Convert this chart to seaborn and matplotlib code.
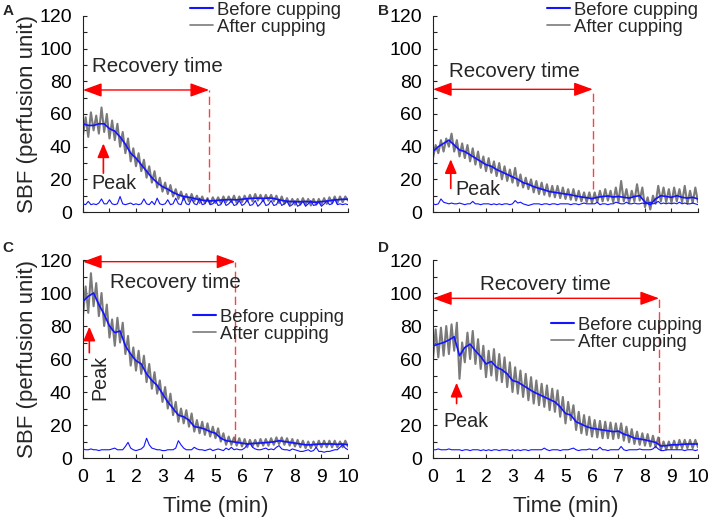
import numpy as np
import matplotlib.pyplot as plt
import seaborn as sns

sns.set_style("ticks")
plt.rcParams['font.family'] = ['Liberation Sans', 'DejaVu Sans']

# sample times (min): raw traces every 0.1 min, smoothed trace every 0.2 min
t_raw = np.round(np.arange(0, 10.01, 0.1), 1)
t_avg = np.round(np.arange(0, 10.01, 0.2), 1)

# ---- Panel A ----
a_before = [5, 4.5, 6.5, 4.5, 5, 4.5, 5.5, 8, 5, 5,
            7.5, 5, 4.5, 5, 9.5, 5, 4.5, 5, 5.5, 4.5,
            5, 4.5, 5, 8, 5, 4.5, 6.5, 4.5, 8.5, 5,
            4.5, 5, 7.5, 4.5, 5, 8.5, 5, 4.5, 9, 5,
            4.5, 8, 5, 4.5, 8.5, 4.5, 5, 8, 4.5, 5,
            7, 4, 4.5, 7.5, 4, 5, 7, 4, 4.5, 7,
            4, 5, 7.5, 4, 4.5, 7, 3.5, 5, 7.5, 4,
            4.5, 7, 4, 4.5, 7.5, 4, 5, 6.5, 3.5, 4.5,
            7, 3.5, 4.5, 6.5, 3.5, 5, 7, 4, 4.5, 6,
            3.5, 5, 7, 4.5, 5, 8, 4.5, 5, 4.5, 5, 4.5]
a_after = [47, 58, 46, 61, 50, 59, 48, 64, 49, 60,
           45, 56, 44, 54, 40, 49, 36, 45, 31, 39,
           28, 36, 25, 32, 21, 28, 18, 25, 15, 21,
           12.5, 18, 11, 16.5, 9.5, 14, 8, 12.5, 7.5, 11,
           6.5, 11, 6.5, 10, 5.5, 9.5, 5.5, 8.5, 5, 9,
           5.5, 9, 5.5, 9.5, 6, 9.5, 6, 10, 5.5, 9.5,
           6, 10, 6.5, 10.5, 6.5, 11, 7, 10.5, 6.5, 10.5,
           7, 10.5, 6.5, 10, 5.5, 9.5, 5, 8.5, 4.5, 8,
           4.5, 8, 4.5, 8.5, 4.5, 8, 4, 8, 4.5, 8,
           4.5, 8.5, 5, 9, 5.5, 9.5, 5.5, 9.5, 6, 9.5, 7]
a_after_avg = [54, 53, 53, 54, 54, 51, 49.5, 46, 41.5, 36, 33,
               29, 25, 21, 18, 15.5, 14, 12, 10.5, 9.5, 9,
               8.3, 7.5, 7, 6.8, 7, 7.3, 7.5, 7.6, 7.4, 7.8,
               8.2, 8.4, 8.5, 8.3, 8.6, 8.3, 7.5, 6.8, 6.5, 6.2,
               6.3, 6.5, 6.1, 6.0, 6.4, 6.6, 7.2, 7.5, 7.8, 7.8]

# ---- Panel B ----
b_before = [5, 4.5, 5, 8, 6, 5.5, 5, 5.5, 5, 5,
            5.5, 5, 4.5, 5, 5, 6.5, 5, 5, 4.5, 5,
            5, 5, 4.5, 5, 4.5, 5, 4.5, 5, 5, 4.5,
            5, 7, 5.5, 6, 5, 4.5, 4, 4.5, 5, 5,
            5, 4.5, 5, 5, 4.5, 5, 5, 4.5, 5, 5,
            5, 5, 4.5, 5, 5, 4.5, 5, 5.5, 5, 5,
            5, 5, 6, 4.5, 5, 5, 4.5, 5, 5, 6,
            5.5, 5, 5, 6, 5, 5, 5.5, 5, 5, 5.5,
            5, 5.5, 6, 5, 5.5, 6.5, 5, 5.5, 5, 5.5,
            5, 5.5, 5, 6, 5, 5.5, 5, 5, 5.5, 5, 4.5]
b_after = [33, 41, 36, 44, 37, 45, 40, 48, 37, 44,
           34, 42, 33, 41, 31, 39, 29, 37, 27, 34,
           25, 33, 24, 31, 22, 30, 20, 28, 19, 26,
           18, 27, 16, 23, 15, 21, 14, 20, 12, 19,
           11, 18, 10.5, 17, 9.5, 16, 9, 16, 8.5, 15,
           8, 14, 7.5, 14, 7, 13, 6.5, 12, 6, 12,
           5.5, 12, 6, 13, 6.5, 14, 7, 13, 6, 15,
           6, 19, 6.5, 14, 5.5, 13, 6.5, 17, 7, 15,
           3, 9, 1.5, 10, 5, 16, 6.5, 15, 6, 14,
           5.5, 15, 6.5, 14, 6, 16, 5, 13, 5.5, 15, 6]
b_after_avg = [37, 40, 42, 44, 41, 38, 37, 35, 33, 31, 29,
               28, 26, 24.5, 23, 21.5, 20, 18, 17, 15.5, 14.5,
               13.5, 12.5, 12, 11.5, 11, 10.5, 9.8, 9.2, 8.8, 8.2,
               9, 9.5, 9.8, 9.2, 9.5, 9, 8.5, 9.5, 10, 6,
               4.5, 8, 10, 9.5, 9, 10, 9, 8.5, 9, 8]

# ---- Panel C ----
c_before = [5.5, 5, 5, 5.5, 5, 5, 4.5, 5, 5, 5,
            5, 5.5, 6, 5, 5, 5, 7, 9.5, 6, 5,
            4.5, 5, 5.5, 7, 12, 8, 6, 5.5, 5, 5,
            4.5, 4.5, 5, 5, 5, 6, 10.5, 8, 6, 5,
            5, 5, 6.5, 5.5, 5, 5, 4.5, 5, 5.5, 4.5,
            5, 5.5, 5, 4.5, 6, 5, 6.5, 5, 5.5, 5,
            5, 6, 8, 9, 6.5, 5.5, 5, 5, 5.5, 6,
            5, 5.5, 5, 6.5, 7.5, 5.5, 5, 5, 4.5, 5.5,
            5, 4.5, 4, 4, 4.5, 5, 4, 4.5, 6.5, 4,
            4, 3.5, 4, 4, 4.5, 5, 5, 6.5, 8, 6, 5]
c_after = [86, 104, 88, 112, 92, 106, 86, 100, 80, 93,
           73, 84, 68, 85, 70, 82, 63, 74, 56, 67,
           53, 65, 51, 62, 46, 57, 42, 52, 39, 47,
           34, 43, 30, 39, 26, 34, 22, 30, 21, 29,
           19, 27, 16, 23, 15, 22, 14, 21, 13, 19,
           12, 18, 10, 15, 8, 13, 8, 12.5, 7.5, 12,
           7, 11.5, 6.5, 11, 7, 11, 7, 11.5, 7.5, 11.5,
           7.5, 12, 8, 12.5, 8.5, 12.5, 8, 12, 7.5, 11.5,
           7, 11, 6.5, 10.5, 6, 10, 6, 10, 6.5, 10.5,
           6.5, 10.5, 6.5, 10.5, 6.5, 10.5, 6.5, 10, 6.5, 10.5, 7]
c_after_avg = [95, 98, 100, 93, 87, 80, 76, 77, 68, 63, 59,
               57, 51, 47, 44, 39, 34, 30, 26, 25, 23,
               19, 18.5, 17.5, 16, 15, 12, 10.5, 10, 9.5, 9,
               8.5, 8.8, 9, 9.2, 9.5, 9.8, 10.5, 10, 9.5, 9,
               8.5, 8, 8, 8.3, 8.5, 8.5, 8.5, 8.3, 8.5, 8]

# ---- Panel D ----
d_before = [5, 5, 5.5, 5, 5, 5, 5.5, 5, 5, 5,
            5, 4.5, 5, 5, 4.5, 5, 5, 5, 4.5, 5,
            4.5, 5, 4.5, 5, 5, 4.5, 5, 5, 5, 4.5,
            5, 4.5, 5, 4.5, 5, 5, 4.5, 5, 5, 5,
            5, 5, 6, 5, 4.5, 5, 5, 5, 4.5, 5,
            5, 5, 5.5, 6, 5, 4.5, 5, 5, 5, 5.5,
            5, 5, 5, 6.5, 5, 5, 4.5, 5, 5, 5,
            5, 7, 5, 4.5, 5, 5, 5, 5, 5.5, 5,
            5, 5, 5, 5.5, 7, 5.5, 4.5, 4.5, 5, 5,
            5, 5, 5, 5, 5, 4.5, 5, 5, 5, 4.5, 5]
d_after = [60, 78, 61, 79, 62, 80, 63, 81, 65, 82,
           48, 70, 58, 76, 60, 77, 57, 72, 54, 68,
           49, 65, 50, 66, 47, 63, 46, 61, 43, 58,
           40, 55, 39, 53, 37, 51, 35, 49, 33, 47,
           32, 45, 31, 44, 29, 42, 28, 41, 25, 37,
           21, 34, 23, 32, 17, 28, 15, 26, 14, 25,
           13, 23, 12.5, 22.5, 12, 22, 12, 21.5, 11.5, 21,
           12, 21, 10.5, 19, 9.5, 17.5, 8.5, 16, 8, 15,
           7.5, 14.5, 7, 13.5, 6.5, 12.5, 5, 10, 5, 10,
           5.5, 10.5, 5.5, 11, 6, 11, 6, 11, 6, 11, 6.5]
d_after_avg = [68, 69, 70, 71.5, 73.5, 62, 67, 69, 65, 61.5, 57,
               58.5, 55, 53.5, 51, 47, 46, 44, 42, 40, 38.5,
               37, 35.5, 34, 31, 27, 26, 22, 20.5, 19, 18,
               17.5, 17, 16.5, 16, 16.3, 14.5, 13.5, 12, 11.5, 11,
               10.2, 9.5, 7.3, 7.5, 8, 8, 8.3, 8.5, 8.5, 8.5]

panel_names = ['A', 'B', 'C', 'D']
before_data = [a_before, b_before, c_before, d_before]
after_data = [a_after, b_after, c_after, d_after]
avg_data = [a_after_avg, b_after_avg, c_after_avg, d_after_avg]

# annotations
recovery_end = [4.76, 6.03, 5.75, 8.53]
recovery_y = [74.7, 75.1, 119, 96.8]
recovery_bottom = [12, 13.9, 9.9, 7.9]
recovery_text_xy = [(2.8, 86), (3.08, 82.8), (3.48, 102.8), (4.23, 101.8)]
peak_x = [0.77, 0.67, 0.24, 0.89]
peak_tip = [42, 32.3, 79.6, 45.6]
peak_tail = [23.8, 14.5, 63.8, 33]
peak_text_xy = [(1.17, 14), (1.68, 10.4), (0.62, 49), (1.23, 19)]

# layout (figure fractions)
axes_rect = [[0.1167, 0.5915, 0.3727, 0.3777],
             [0.609, 0.5915, 0.3727, 0.3777],
             [0.1167, 0.1175, 0.3727, 0.3815],
             [0.609, 0.1175, 0.3727, 0.3815]]
legend_anchor = [(0.404, 0.987), (0.43, 0.985), (0.415, 0.667), (0.445, 0.628)]
letter_xy = [(0.004, 0.979), (0.531, 0.979), (0.004, 0.523), (0.531, 0.523)]

blue = '#1414ff'
gray = '#7a7a7a'
red = '#ff0000'

fig = plt.figure(figsize=(7.11, 5.19), dpi=100)

for i in range(4):
    ax = fig.add_axes(axes_rect[i])
    sns.lineplot(x=t_raw, y=after_data[i], ax=ax, color=gray, linewidth=1.5,
                 label='After cupping', zorder=2)
    sns.lineplot(x=t_raw, y=before_data[i], ax=ax, color=blue, linewidth=0.8,
                 label='Before cupping', zorder=3)
    sns.lineplot(x=t_avg, y=avg_data[i], ax=ax, color=blue, linewidth=1.2, zorder=4)

    ax.set_xlim(0, 10)
    ax.set_ylim(0, 120)
    ax.set_xticks(range(0, 11))
    ax.set_yticks(range(0, 121, 20))
    ax.set_yticks(range(10, 120, 20), minor=True)
    ax.tick_params(axis='both', which='both', direction='in', length=3, width=0.8,
                   labelsize=14, pad=8, colors='#222222', labelcolor='black')
    sns.despine(ax=ax)
    for s in ['left', 'bottom']:
        ax.spines[s].set_linewidth(0.8)
        ax.spines[s].set_color('#222222')

    if i < 2:
        ax.set_xticklabels([])
    else:
        ax.set_xlabel('Time (min)', fontsize=16, labelpad=7)
    if i % 2 == 0:
        ax.set_ylabel('SBF (perfusion unit)', fontsize=16, labelpad=1)
    else:
        ax.set_ylabel('')

    # legend: Before first, then After
    h, l = ax.get_legend_handles_labels()
    leg = ax.legend([h[1], h[0]], [l[1], l[0]], loc='center left',
                    bbox_to_anchor=legend_anchor[i], frameon=False, fontsize=13.3,
                    handlelength=1.26, handletextpad=0.2, labelspacing=0.0,
                    borderpad=0, borderaxespad=0)
    leg.get_lines()[0].set_linewidth(1.5)
    leg.get_lines()[1].set_linewidth(1.2)

    # recovery time arrow + dashed marker
    ax.annotate('', xy=(recovery_end[i], recovery_y[i]), xytext=(0, recovery_y[i]),
                arrowprops=dict(arrowstyle='<|-|>,head_length=1.15,head_width=0.42',
                                color=red, lw=1, mutation_scale=10,
                                shrinkA=0, shrinkB=0), annotation_clip=False)
    ax.vlines(recovery_end[i], recovery_bottom[i], recovery_y[i], colors=red,
              linestyles=(0, (6, 3)), linewidth=1, alpha=0.75)
    ax.text(recovery_text_xy[i][0], recovery_text_xy[i][1], 'Recovery time',
            fontsize=14.8, ha='center', va='baseline')

    # peak arrow
    ax.annotate('', xy=(peak_x[i], peak_tip[i]), xytext=(peak_x[i], peak_tail[i]),
                arrowprops=dict(arrowstyle='-|>,head_length=0.85,head_width=0.36',
                                color=red, lw=1.2, mutation_scale=10,
                                shrinkA=0, shrinkB=0))
    if i == 2:
        ax.text(peak_text_xy[i][0], peak_text_xy[i][1], 'Peak', fontsize=14.2,
                rotation=90, ha='center', va='center')
    else:
        ax.text(peak_text_xy[i][0], peak_text_xy[i][1], 'Peak', fontsize=14.2,
                ha='center', va='baseline')

    fig.text(letter_xy[i][0], letter_xy[i][1], panel_names[i], fontsize=11,
             fontweight='bold', ha='left', va='center')

fig.savefig('out.png', dpi=100)
